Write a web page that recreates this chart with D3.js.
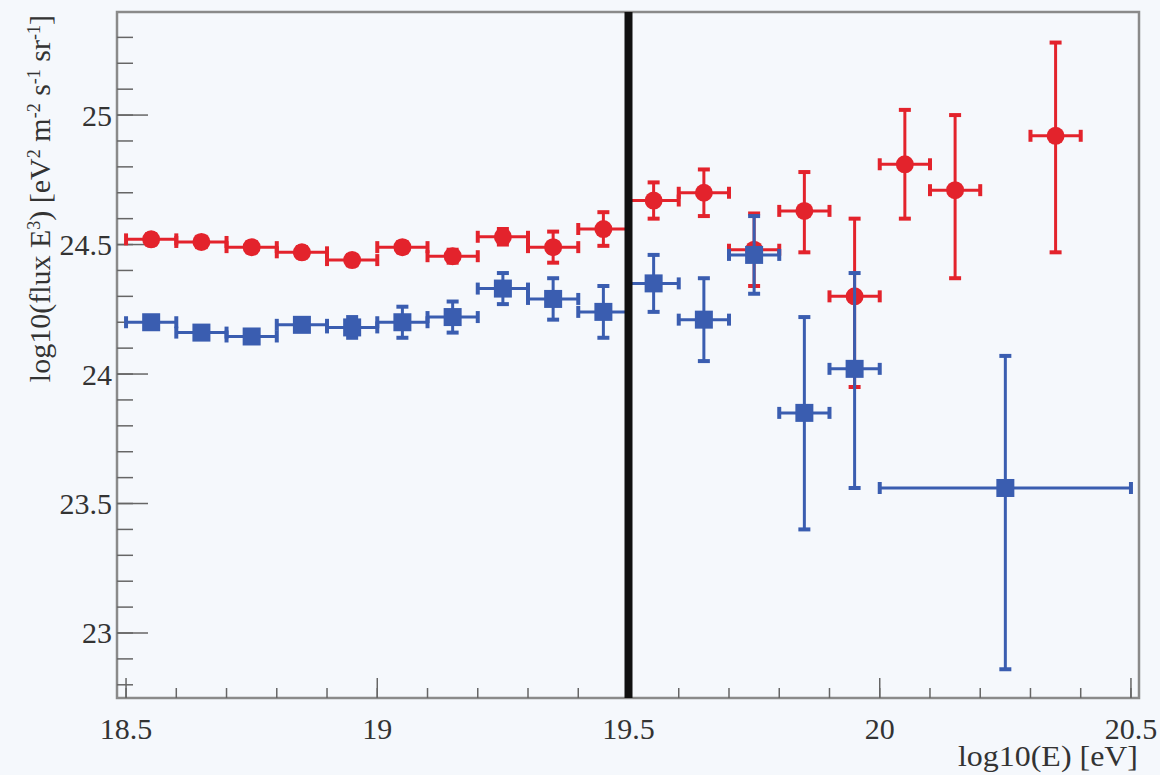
<!DOCTYPE html>
<html>
<head>
<meta charset="utf-8">
<script src="https://cdn.jsdelivr.net/npm/d3@7"></script>
<style>
  body { margin: 0; background: #f5f8fc; }
  text { font-family: "Liberation Serif", "DejaVu Serif", serif; fill: #333; }
</style>
</head>
<body>
<script>
// red series (circles)
const redX = [18.55,18.65,18.75,18.85,18.95,19.05,19.15,19.25,19.35,19.45,19.55,19.65,19.75,19.85,19.95,20.05,20.15,20.35];
const redY = [24.52,24.51,24.49,24.47,24.44,24.49,24.455,24.53,24.49,24.56,24.67,24.70,24.48,24.63,24.30,24.81,24.71,24.92];
const redErrLo = [0.02,0.02,0.02,0.02,0.02,0.02,0.025,0.03,0.06,0.065,0.07,0.09,0.14,0.16,0.35,0.21,0.34,0.45];
const redErrHi = [0.02,0.02,0.02,0.02,0.02,0.02,0.025,0.03,0.06,0.065,0.07,0.09,0.14,0.15,0.30,0.21,0.29,0.36];
const redXErr = [0.05,0.05,0.05,0.05,0.05,0.05,0.05,0.05,0.05,0.05,0.05,0.05,0.05,0.05,0.05,0.05,0.05,0.05];

// blue series (squares)
const blueX = [18.55,18.65,18.75,18.85,18.95,19.05,19.15,19.25,19.35,19.45,19.55,19.65,19.75,19.85,19.95,20.25];
const blueY = [24.20,24.16,24.145,24.19,24.18,24.20,24.22,24.33,24.29,24.24,24.35,24.21,24.46,23.85,24.02,23.56];
const blueErrLo = [0.02,0.02,0.02,0.02,0.04,0.06,0.06,0.06,0.08,0.10,0.11,0.16,0.15,0.45,0.46,0.70];
const blueErrHi = [0.02,0.02,0.02,0.02,0.04,0.06,0.06,0.06,0.08,0.10,0.11,0.16,0.15,0.37,0.37,0.51];
const blueXErr = [0.05,0.05,0.05,0.05,0.05,0.05,0.05,0.05,0.05,0.05,0.05,0.05,0.05,0.05,0.05,0.25];

const xTicks = [18.5, 19, 19.5, 20, 20.5];
const yTicks = [23, 23.5, 24, 24.5, 25];
const cutX = 19.5;

const W = 1160, H = 775;
const padL = 117, padR = 1139, padT = 12, padB = 698;
const serif = "'Liberation Serif', 'DejaVu Serif', serif";

const svg = d3.select("body").append("svg").attr("width", W).attr("height", H);

const x = d3.scaleLinear().domain([18.482, 20.516]).range([padL, padR]);
const y = d3.scaleLinear().domain([22.749, 25.398]).range([padB, padT]);

// frame
svg.append("rect")
  .attr("x", padL).attr("y", padT)
  .attr("width", padR - padL).attr("height", padB - padT)
  .attr("fill", "none").attr("stroke", "#8a8a8a").attr("stroke-width", 2.5);

// x axis: ticks point inward
const xMinor = d3.range(18.5, 20.51, 0.1);
svg.append("g").selectAll("line").data(xMinor).enter().append("line")
  .attr("x1", d => x(d)).attr("x2", d => x(d))
  .attr("y1", padB).attr("y2", padB - 10)
  .attr("stroke", "#666").attr("stroke-width", 1.5);
svg.append("g").selectAll("line").data(xTicks).enter().append("line")
  .attr("x1", d => x(d)).attr("x2", d => x(d))
  .attr("y1", padB).attr("y2", padB - 20)
  .attr("stroke", "#666").attr("stroke-width", 1.5);
svg.append("g").selectAll("text").data(xTicks).enter().append("text")
  .attr("x", d => x(d)).attr("y", 739)
  .attr("text-anchor", "middle").attr("font-size", 30).attr("font-family", serif)
  .text(d => d3.format("")(d));

// y axis
const yMinor = d3.range(22.8, 25.4, 0.1);
svg.append("g").selectAll("line").data(yMinor).enter().append("line")
  .attr("x1", padL).attr("x2", padL + 16)
  .attr("y1", d => y(d)).attr("y2", d => y(d))
  .attr("stroke", "#666").attr("stroke-width", 1.5);
svg.append("g").selectAll("line").data(yTicks).enter().append("line")
  .attr("x1", padL).attr("x2", padL + 31)
  .attr("y1", d => y(d)).attr("y2", d => y(d))
  .attr("stroke", "#666").attr("stroke-width", 1.5);
svg.append("g").selectAll("text").data(yTicks).enter().append("text")
  .attr("x", padL - 5).attr("y", d => y(d)).attr("dy", "0.35em")
  .attr("text-anchor", "end").attr("font-size", 30).attr("font-family", serif)
  .text(d => d3.format("")(d));

// axis titles
svg.append("text")
  .attr("x", 1138).attr("y", 766)
  .attr("text-anchor", "end").attr("font-size", 29).attr("font-family", serif)
  .attr("textLength", 180).attr("lengthAdjust", "spacingAndGlyphs")
  .text("log10(E) [eV]");

const yt = svg.append("text")
  .attr("transform", "translate(50," + (padT + 3) + ") rotate(-90)")
  .attr("text-anchor", "end").attr("font-size", 30).attr("font-family", serif);
const parts = [["log10(flux E", false], ["3", true], [") [eV", false], ["2", true],
  [" m", false], ["-2", true], [" s", false], ["-1", true], [" sr", false], ["-1", true], ["]", false]];
parts.forEach(p => {
  const t = yt.append("tspan").text(p[0]);
  if (p[1]) t.attr("baseline-shift", "super").attr("font-size", 18);
});

// draws one series with error bars
function drawSeries(xs, ys, lo, hi, xe, color, shape) {
  const d = xs.map((v, i) => ({x: v, y: ys[i], lo: lo[i], hi: hi[i], xe: xe[i]}));
  const g = svg.append("g");
  const cap = 6;
  // horizontal bars
  g.selectAll(".hb").data(d).enter().append("line")
    .attr("x1", p => x(p.x - p.xe)).attr("x2", p => x(p.x + p.xe))
    .attr("y1", p => y(p.y)).attr("y2", p => y(p.y))
    .attr("stroke", color).attr("stroke-width", 3);
  // vertical bars
  g.selectAll(".vb").data(d).enter().append("line")
    .attr("x1", p => x(p.x)).attr("x2", p => x(p.x))
    .attr("y1", p => y(p.y - p.lo)).attr("y2", p => y(p.y + p.hi))
    .attr("stroke", color).attr("stroke-width", 3);
  // caps
  d.forEach(p => {
    [p.x - p.xe, p.x + p.xe].forEach(cx => {
      g.append("line")
        .attr("x1", x(cx)).attr("x2", x(cx))
        .attr("y1", y(p.y) - cap).attr("y2", y(p.y) + cap)
        .attr("stroke", color).attr("stroke-width", 4);
    });
    [p.y - p.lo, p.y + p.hi].forEach(cy => {
      g.append("line")
        .attr("x1", x(p.x) - cap).attr("x2", x(p.x) + cap)
        .attr("y1", y(cy)).attr("y2", y(cy))
        .attr("stroke", color).attr("stroke-width", 4);
    });
  });
  // markers
  if (shape === "circle") {
    g.selectAll("circle").data(d).enter().append("circle")
      .attr("cx", p => x(p.x)).attr("cy", p => y(p.y)).attr("r", 9)
      .attr("fill", color);
  } else {
    g.selectAll("rect").data(d).enter().append("rect")
      .attr("x", p => x(p.x) - 9).attr("y", p => y(p.y) - 9)
      .attr("width", 18).attr("height", 18)
      .attr("fill", color);
  }
}

drawSeries(redX, redY, redErrLo, redErrHi, redXErr, "#e3232c", "circle");
drawSeries(blueX, blueY, blueErrLo, blueErrHi, blueXErr, "#3a5db0", "square");

// vertical cut line
svg.append("line")
  .attr("x1", x(cutX)).attr("x2", x(cutX))
  .attr("y1", padT).attr("y2", padB)
  .attr("stroke", "#111").attr("stroke-width", 8);
</script>
</body>
</html>
